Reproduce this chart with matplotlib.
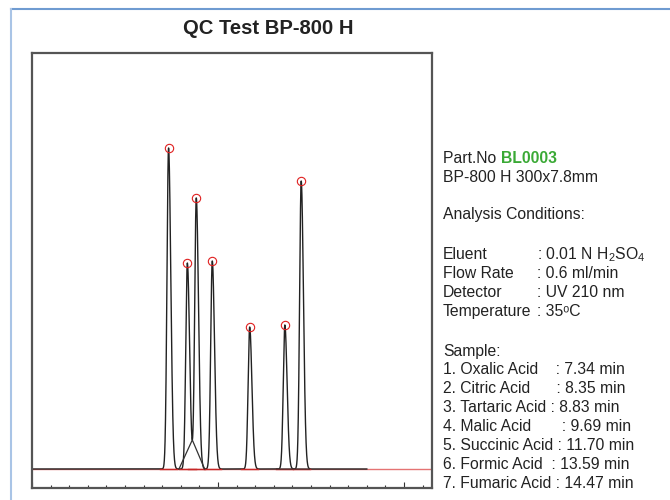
import numpy as np
import matplotlib
matplotlib.use("Agg")
import matplotlib.pyplot as plt
from matplotlib.lines import Line2D

plt.rcParams["font.family"] = ["Liberation Sans", "DejaVu Sans"]
plt.rcParams["mathtext.fontset"] = "custom"
plt.rcParams["mathtext.rm"] = "Liberation Sans"
plt.rcParams["mathtext.it"] = "Liberation Sans:italic"
plt.rcParams["mathtext.bf"] = "Liberation Sans:bold"

# Datos del cromatograma (tiempos de retencion en min, alturas en mAU aprox.)
compuestos = ["Oxalic Acid", "Citric Acid", "Tartaric Acid", "Malic Acid",
              "Succinic Acid", "Formic Acid", "Fumaric Acid"]
tiempos = [7.34, 8.35, 8.83, 9.69, 11.70, 13.59, 14.47]
alturas = [321, 206, 271, 208, 142, 144, 288]
sigma_izq = 0.085
sigma_der = 0.12

# Condiciones
condiciones = [("Eluent", ": 0.01 N H$_2$SO$_4$"),
               ("Flow Rate", ": 0.6 ml/min"),
               ("Detector", ": UV 210 nm"),
               ("Temperature", ": 35\u1d52C")]
espacios = [4, 6, 1, 7, 1, 2, 1]

# Senal = suma de picos gaussianos asimetricos
t = np.arange(0, 18.0, 0.004)
senal = np.zeros_like(t)
for rt, h in zip(tiempos, alturas):
    s = np.where(t < rt, sigma_izq, sigma_der)
    senal += h * np.exp(-(t - rt) ** 2 / (2 * s ** 2))

fig = plt.figure(figsize=(6.7, 5), dpi=100)

# Marco azul exterior
fig.add_artist(Line2D([11 / 670, 1.0], [1 - 9 / 500, 1 - 9 / 500],
                      transform=fig.transFigure, color="#6f9bd1", lw=1.5))
fig.add_artist(Line2D([11 / 670, 11 / 670], [0, 1 - 9 / 500],
                      transform=fig.transFigure, color="#a9c4e6", lw=1.5))

ax = fig.add_axes([32 / 670, 12 / 500, 400 / 670, 435 / 500])

# Linea base roja completa
ax.plot([0, 21.5], [0, 0], color="#e57373", lw=1, zorder=1)
# Senal
ax.plot(t, senal, color="#222222", lw=1.0, zorder=2)

# Lineas base de integracion
for rt in tiempos:
    ax.plot([rt - 0.45, rt + 0.45], [0, 0], color="#c62828", lw=1, zorder=3)

# Lineas base valle a valle (pares solapados)
for i, j in [(1, 2), (5, 6)]:
    m = (t > tiempos[i]) & (t < tiempos[j])
    tv = t[m][np.argmin(senal[m])]
    yv = senal[m].min()
    ax.plot([tiempos[i] - 0.45, tv, tiempos[j] + 0.45], [0, yv, 0],
            color="#333333", lw=0.9, zorder=3)

# Marcadores en los apices
for rt in tiempos:
    m = np.abs(t - rt) < 0.1
    k = np.argmax(senal[m])
    ax.plot(t[m][k], senal[m][k], "o", ms=6, mfc="none", mec="#e02020",
            mew=0.8, zorder=4)

ax.set_xlim(0, 21.5)
ax.set_ylim(-19, 416)
ax.set_xticks([0, 10, 20])
ax.set_xticks(np.arange(0, 22, 1), minor=True)
ax.tick_params(axis="x", which="major", direction="in", length=4, width=0.8,
               labelbottom=False, color="#333333")
ax.tick_params(axis="x", which="minor", direction="in", length=2, width=0.8,
               color="#333333")
ax.set_yticks([])
for sp in ax.spines.values():
    sp.set_color("#555555")
    sp.set_linewidth(1.6)

# Titulo
fig.text(268 / 670, 1 - 34 / 500, "QC Test BP-800 H", ha="center",
         va="baseline", fontsize=14.6, fontweight="bold", color="#222222")

# Texto lateral
x0 = 443 / 670
col = "#222222"
fs = 11.3


def yb(px):
    return 1 - px / 500


t1 = fig.text(x0, yb(163), "Part.No ", fontsize=fs, color=col, va="baseline")
t2 = fig.text(0, 0, "BL0003", fontsize=fs, color="#3aa935", fontweight="bold",
              va="baseline")
# colocar BL0003 despues de "Part.No "
fig.canvas.draw()
bb = t1.get_window_extent()
t2.set_position((bb.x1 / fig.bbox.width, yb(163)))

fig.text(x0, yb(182), "BP-800 H 300x7.8mm", fontsize=fs, color=col, va="baseline")
fig.text(x0, yb(219), "Analysis Conditions:", fontsize=fs, color=col, va="baseline")

for k, (lab, val) in enumerate(condiciones):
    y = yb(259 + 19 * k)
    fig.text(x0, y, lab, fontsize=fs, color=col, va="baseline")
    fig.text(537 / 670, y, val, fontsize=fs, color=col, va="baseline")

fig.text(x0, yb(356), "Sample:", fontsize=fs, color=col, va="baseline")
for k, (nom, rt) in enumerate(zip(compuestos, tiempos)):
    linea = f"{k + 1}. {nom}" + " " * espacios[k] + f": {rt:.2f} min"
    fig.text(x0, yb(374 + 19 * k), linea, fontsize=fs, color=col, va="baseline")

fig.savefig("out.png", dpi=100)
